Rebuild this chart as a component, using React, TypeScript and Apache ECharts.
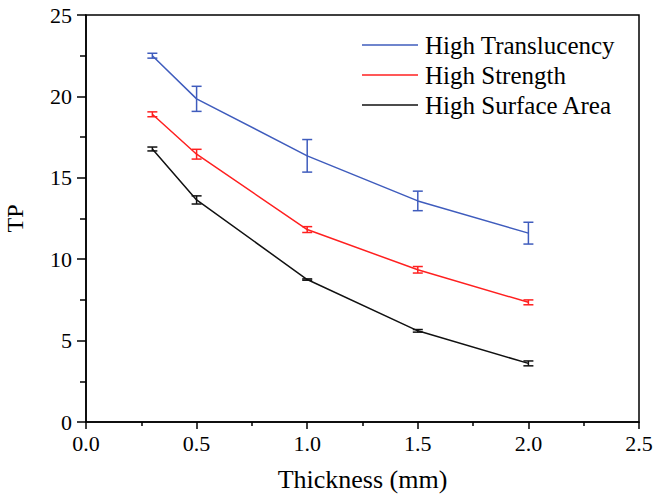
import React, { useEffect, useRef } from "react";
import * as echarts from "echarts";

const thickness = [0.3, 0.5, 1.0, 1.5, 2.0];
const seriesNames = ["High Translucency", "High Strength", "High Surface Area"];
const translucency = [22.5, 19.85, 16.35, 13.58, 11.6];
const translucencyErr = [0.15, 0.77, 1.0, 0.6, 0.67];
const strength = [18.9, 16.45, 11.82, 9.35, 7.35];
const strengthErr = [0.15, 0.3, 0.18, 0.2, 0.15];
const surface = [16.77, 13.64, 8.75, 5.6, 3.6];
const surfaceErr = [0.12, 0.25, 0.04, 0.08, 0.15];
const colors = ["#3f5cbd", "#ff2020", "#111111"];

const FONT = "'Liberation Serif', 'Times New Roman', serif";

export default function App() {
  const ref = useRef<HTMLDivElement>(null);
  useEffect(() => {
    if (!ref.current) return;
    const chart = echarts.init(ref.current, null, { renderer: "svg" });
    const values = [translucency, strength, surface];
    const errs = [translucencyErr, strengthErr, surfaceErr];
    const lineSeries = values.map((v, i) => ({
      name: seriesNames[i],
      type: "line",
      data: thickness.map((x, j) => [x, v[j]]),
      symbol: "none",
      lineStyle: { color: colors[i], width: 1.5 },
      itemStyle: { color: colors[i] },
      z: 3,
    }));
    const errSeries = values.map((v, i) => ({
      name: seriesNames[i] + " error",
      type: "custom",
      data: thickness.map((x, j) => [x, v[j] - errs[i][j], v[j] + errs[i][j]]),
      renderItem: (params: any, api: any) => {
        const x = api.value(0);
        const lo = api.coord([x, api.value(1)]);
        const hi = api.coord([x, api.value(2)]);
        const hw = 5;
        const style = { stroke: colors[i], lineWidth: 1.5, fill: "none" };
        return {
          type: "group",
          children: [
            { type: "line", shape: { x1: lo[0], y1: lo[1], x2: hi[0], y2: hi[1] }, style },
            { type: "line", shape: { x1: lo[0] - hw, y1: lo[1], x2: lo[0] + hw, y2: lo[1] }, style },
            { type: "line", shape: { x1: hi[0] - hw, y1: hi[1], x2: hi[0] + hw, y2: hi[1] }, style },
          ],
        };
      },
      z: 4,
    }));
    chart.setOption({
      animation: false,
      backgroundColor: "#ffffff",
      grid: {
        left: 86,
        right: 18,
        top: 15,
        bottom: 81,
        containLabel: false,
        outerBoundsMode: "none",
        show: true,
        borderColor: "#000",
        borderWidth: 1.5,
        backgroundColor: "transparent",
      },
      legend: {
        data: seriesNames.map((n) => ({ name: n, icon: "rect" })),
        orient: "vertical",
        left: 362,
        top: 30,
        padding: 0,
        itemWidth: 56,
        itemHeight: 1.5,
        itemGap: 0,
        textStyle: { fontFamily: FONT, fontSize: 25, color: "#000", lineHeight: 30, padding: [0, 0, 0, 2] },
        selectedMode: false,
      },
      xAxis: {
        type: "value",
        min: 0,
        max: 2.5,
        interval: 0.5,
        name: "Thickness (mm)",
        nameLocation: "middle",
        nameGap: 44,
        nameTextStyle: { fontFamily: FONT, fontSize: 26, color: "#000" },
        axisLine: { show: true, onZero: false, lineStyle: { color: "#000", width: 1.5 } },
        axisTick: { show: true, inside: false, length: 7, lineStyle: { color: "#000", width: 1.5 } },
        minorTick: { show: true, splitNumber: 2, length: 4, lineStyle: { color: "#000", width: 1.5 } },
        splitLine: { show: false },
        axisLabel: {
          fontFamily: FONT,
          fontSize: 22,
          color: "#000",
          margin: 10,
          formatter: (v: number) => v.toFixed(1),
        },
      },
      yAxis: {
        type: "value",
        min: 0,
        max: 25,
        interval: 5,
        name: "TP",
        nameLocation: "middle",
        nameGap: 59,
        nameTextStyle: { fontFamily: FONT, fontSize: 24, color: "#000" },
        axisLine: { show: true, onZero: false, lineStyle: { color: "#000", width: 1.5 } },
        axisTick: { show: true, inside: false, length: 9, lineStyle: { color: "#000", width: 1.5 } },
        minorTick: { show: true, splitNumber: 2, length: 6, lineStyle: { color: "#000", width: 1.5 } },
        splitLine: { show: false },
        axisLabel: { fontFamily: FONT, fontSize: 22, color: "#000", margin: 14 },
      },
      series: [...lineSeries, ...errSeries],
    });
    return () => chart.dispose();
  }, []);
  return <div ref={ref} style={{ width: 657, height: 503, position: "absolute", left: 0, top: 0 }} />;
}
